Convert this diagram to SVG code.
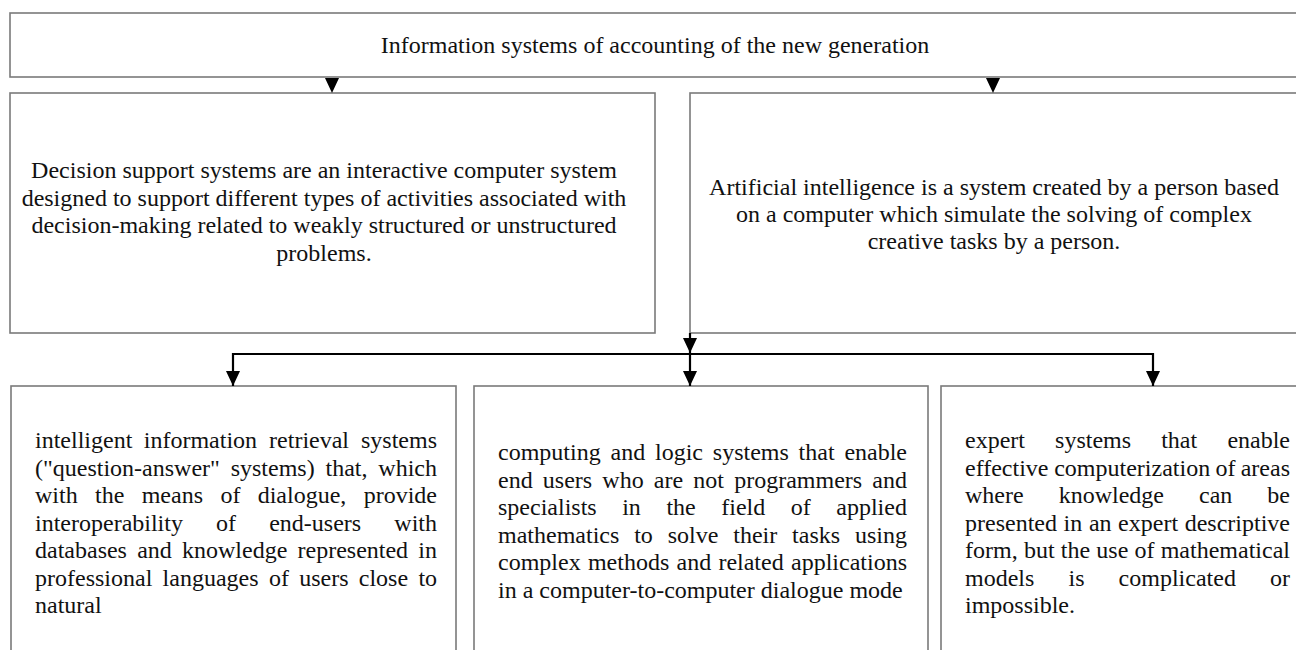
<svg xmlns="http://www.w3.org/2000/svg" width="1296" height="650" viewBox="0 0 1296 650">
  <style>
    .box { fill: #ffffff; stroke: #7a7a7a; stroke-width: 1.6; }
    .t { font-family: "Liberation Serif", "Times New Roman", Tinos, serif; font-size: 24px; fill: #111111; }
    .mid { text-anchor: middle; }
    .link { fill: none; stroke: #000000; stroke-width: 2.2; }
    .head { fill: #000000; }
  </style>
  <defs>
    <!-- arrowhead drawn along +x so orient="auto" points it down the line -->
    <marker id="arrow" viewBox="0 0 15 14" refX="15" refY="7" markerWidth="15" markerHeight="14" markerUnits="userSpaceOnUse" orient="auto-start-reverse">
      <path d="M0,0 L15,7 L0,14 Z" class="head"/>
    </marker>
  </defs>
  <rect width="1296" height="650" fill="#ffffff"/>

  <!-- Root -->
  <g id="node-root">
    <rect class="box" x="10" y="13" width="1300" height="64"/>
    <text class="t mid" x="655" y="53">Information systems of accounting of the new generation</text>
  </g>

  <!-- Decision support systems -->
  <g id="node-dss">
    <rect class="box" x="10" y="93" width="645" height="240"/>
    <text class="t mid" x="324" y="178">Decision support systems are an interactive computer system</text>
    <text class="t mid" x="324" y="205.5">designed to support different types of activities associated with</text>
    <text class="t mid" x="324" y="233">decision-making related to weakly structured or unstructured</text>
    <text class="t mid" x="324" y="260.5">problems.</text>
  </g>

  <!-- Artificial intelligence -->
  <g id="node-ai">
    <rect class="box" x="690" y="93" width="620" height="240"/>
    <text class="t mid" x="994" y="195">Artificial intelligence is a system created by a person based</text>
    <text class="t mid" x="994" y="222">on a computer which simulate the solving of complex</text>
    <text class="t mid" x="994" y="249">creative tasks by a person.</text>
  </g>

  <!-- Intelligent information retrieval systems (justified, 35..437) -->
  <g id="node-iirs">
    <rect class="box" x="11" y="386" width="445" height="280"/>
    <text class="t" y="448"><tspan x="35">intelligent</tspan><tspan x="143.8">information</tspan><tspan x="269.1">retrieval</tspan><tspan x="361">systems</tspan></text>
    <text class="t" y="475.5"><tspan x="35">("question-answer"</tspan><tspan x="230.7">systems)</tspan><tspan x="325.5">that,</tspan><tspan x="378.3">which</tspan></text>
    <text class="t" y="503"><tspan x="35">with</tspan><tspan x="95">the</tspan><tspan x="141.7">means</tspan><tspan x="220.4">of</tspan><tspan x="257.7">dialogue,</tspan><tspan x="363.7">provide</tspan></text>
    <text class="t" y="530.5"><tspan x="35">interoperability</tspan><tspan x="216.1">of</tspan><tspan x="269.2">end-users</tspan><tspan x="394.3">with</tspan></text>
    <text class="t" y="558"><tspan x="35">databases</tspan><tspan x="137.2">and</tspan><tspan x="182">knowledge</tspan><tspan x="297.5">represented</tspan><tspan x="418.3">in</tspan></text>
    <text class="t" y="585.5"><tspan x="35">professional</tspan><tspan x="162.6">languages</tspan><tspan x="268.9">of</tspan><tspan x="299.2">users</tspan><tspan x="358.8">close</tspan><tspan x="418.4">to</tspan></text>
    <text class="t" x="35" y="613">natural</text>
  </g>

  <!-- Computing and logic systems (justified, 498..907) -->
  <g id="node-cls">
    <rect class="box" x="474" y="386" width="454" height="280"/>
    <text class="t" y="460"><tspan x="498">computing</tspan><tspan x="610.5">and</tspan><tspan x="655">logic</tspan><tspan x="712.8">systems</tspan><tspan x="798.6">that</tspan><tspan x="844.4">enable</tspan></text>
    <text class="t" y="487.5"><tspan x="498">end</tspan><tspan x="542.8">users</tspan><tspan x="602.3">who</tspan><tspan x="653.8">are</tspan><tspan x="693.3">not</tspan><tspan x="734.2">programmers</tspan><tspan x="872.3">and</tspan></text>
    <text class="t" y="515"><tspan x="498">specialists</tspan><tspan x="622.2">in</tspan><tspan x="666.4">the</tspan><tspan x="721.3">field</tspan><tspan x="790.8">of</tspan><tspan x="836.3">applied</tspan></text>
    <text class="t" y="542.5"><tspan x="498">mathematics</tspan><tspan x="634.2">to</tspan><tspan x="667.7">solve</tspan><tspan x="733.3">their</tspan><tspan x="792.1">tasks</tspan><tspan x="855">using</tspan></text>
    <text class="t" y="570"><tspan x="498">complex</tspan><tspan x="587.9">methods</tspan><tspan x="676.5">and</tspan><tspan x="718.4">related</tspan><tspan x="791">applications</tspan></text>
    <text class="t" x="498" y="597.5">in a computer-to-computer dialogue mode</text>
  </g>

  <!-- Expert systems (justified, 965..1290) -->
  <g id="node-es">
    <rect class="box" x="941" y="386" width="380" height="280"/>
    <text class="t" y="448"><tspan x="965">expert</tspan><tspan x="1055.1">systems</tspan><tspan x="1161.2">that</tspan><tspan x="1227.4">enable</tspan></text>
    <text class="t" y="475.5"><tspan x="965">effective</tspan><tspan x="1054.2">computerization</tspan><tspan x="1215.4">of</tspan><tspan x="1240.7">areas</tspan></text>
    <text class="t" y="503"><tspan x="965">where</tspan><tspan x="1058.7">knowledge</tspan><tspan x="1199">can</tspan><tspan x="1267.3">be</tspan></text>
    <text class="t" y="530.5"><tspan x="965">presented</tspan><tspan x="1063.6">in</tspan><tspan x="1088.9">an</tspan><tspan x="1118.1">expert</tspan><tspan x="1184.7">descriptive</tspan></text>
    <text class="t" y="558"><tspan x="965">form,</tspan><tspan x="1023.9">but</tspan><tspan x="1060.8">the</tspan><tspan x="1096.3">use</tspan><tspan x="1134.5">of</tspan><tspan x="1160.7">mathematical</tspan></text>
    <text class="t" y="585.5"><tspan x="965">models</tspan><tspan x="1068.5">is</tspan><tspan x="1118.6">complicated</tspan><tspan x="1270">or</tspan></text>
    <text class="t" x="965" y="613">impossible.</text>
  </g>

  <!-- Connectors -->
  <g id="connectors">
    <path class="head" d="M325,78 L339,78 L332,93 Z"/>
    <path class="head" d="M986,78 L1000,78 L993,93 Z"/>
    <path class="link" d="M690,333 L690,353" marker-end="url(#arrow)"/>
    <path class="link" d="M233,386 L233,354 L1153,354 L1153,386" marker-start="url(#arrow)" marker-end="url(#arrow)"/>
    <path class="link" d="M690,354 L690,386" marker-end="url(#arrow)"/>
  </g>
</svg>
